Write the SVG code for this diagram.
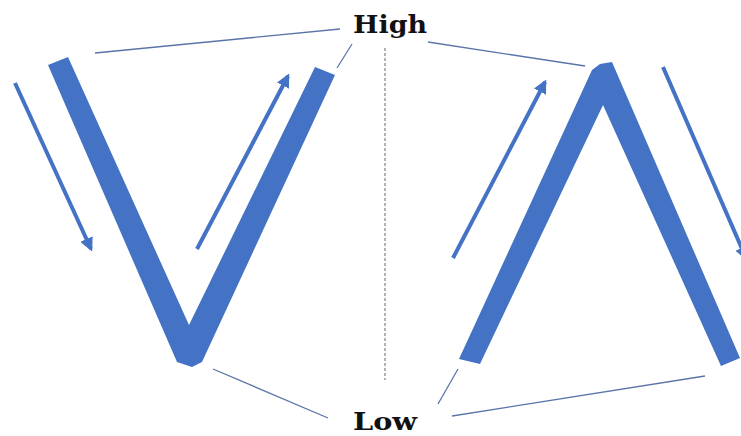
<svg xmlns="http://www.w3.org/2000/svg" width="741" height="436" viewBox="0 0 741 436">
<defs>
<style>
.bar{fill:#4472C4;}
.arr{stroke:#4472C4;stroke-width:4;fill:none;marker-end:url(#ah);}
.lead{stroke:#5a74a8;stroke-width:1.3;fill:none;}
.dash{stroke:#8a8a8a;stroke-width:1.3;stroke-dasharray:3 2;fill:none;}
.lbl{font-family:"DejaVu Serif","Liberation Serif",serif;font-weight:bold;font-size:24px;fill:#111;}
</style>
<marker id="ah" viewBox="0 0 10 10" refX="8" refY="5" markerWidth="3.4" markerHeight="3.4" orient="auto" markerUnits="strokeWidth">
<path d="M0,0 L10,5 L0,10 Z" fill="#4472C4"/>
</marker>
</defs>
<rect width="741" height="436" fill="#ffffff"/>
<g id="v-shape">
<polygon class="bar" points="48,65 68,57 189,325 315,67 335,75 202,362 192,367 177,362"/>
</g>
<g id="lambda-shape">
<polygon class="bar" points="459,359 592,70 600,64 612,62 740,358 721,366 603,105 480,364"/>
</g>
<g id="arrows">
<line class="arr" x1="15" y1="83" x2="91" y2="249"/>
<line class="arr" x1="197" y1="249" x2="288" y2="76"/>
<line class="arr" x1="453" y1="258" x2="545" y2="82"/>
<line class="arr" x1="663" y1="67" x2="746" y2="258"/>
</g>
<g id="label-high">
<text class="lbl" x="390" y="33" text-anchor="middle" textLength="74" lengthAdjust="spacingAndGlyphs">High</text>
</g>
<g id="label-low">
<text class="lbl" x="385" y="430" text-anchor="middle" textLength="64" lengthAdjust="spacingAndGlyphs">Low</text>
</g>
<g id="connectors">
<line class="lead" x1="95" y1="53" x2="340" y2="29"/>
<line class="lead" x1="337" y1="68" x2="352" y2="44"/>
<line class="lead" x1="428" y1="42" x2="585" y2="66"/>
<line class="lead" x1="213" y1="369" x2="328" y2="418"/>
<line class="lead" x1="458" y1="369" x2="438" y2="404"/>
<line class="lead" x1="452" y1="416" x2="705" y2="376"/>
<line class="dash" x1="385" y1="48" x2="385" y2="380"/>
</g>
</svg>
